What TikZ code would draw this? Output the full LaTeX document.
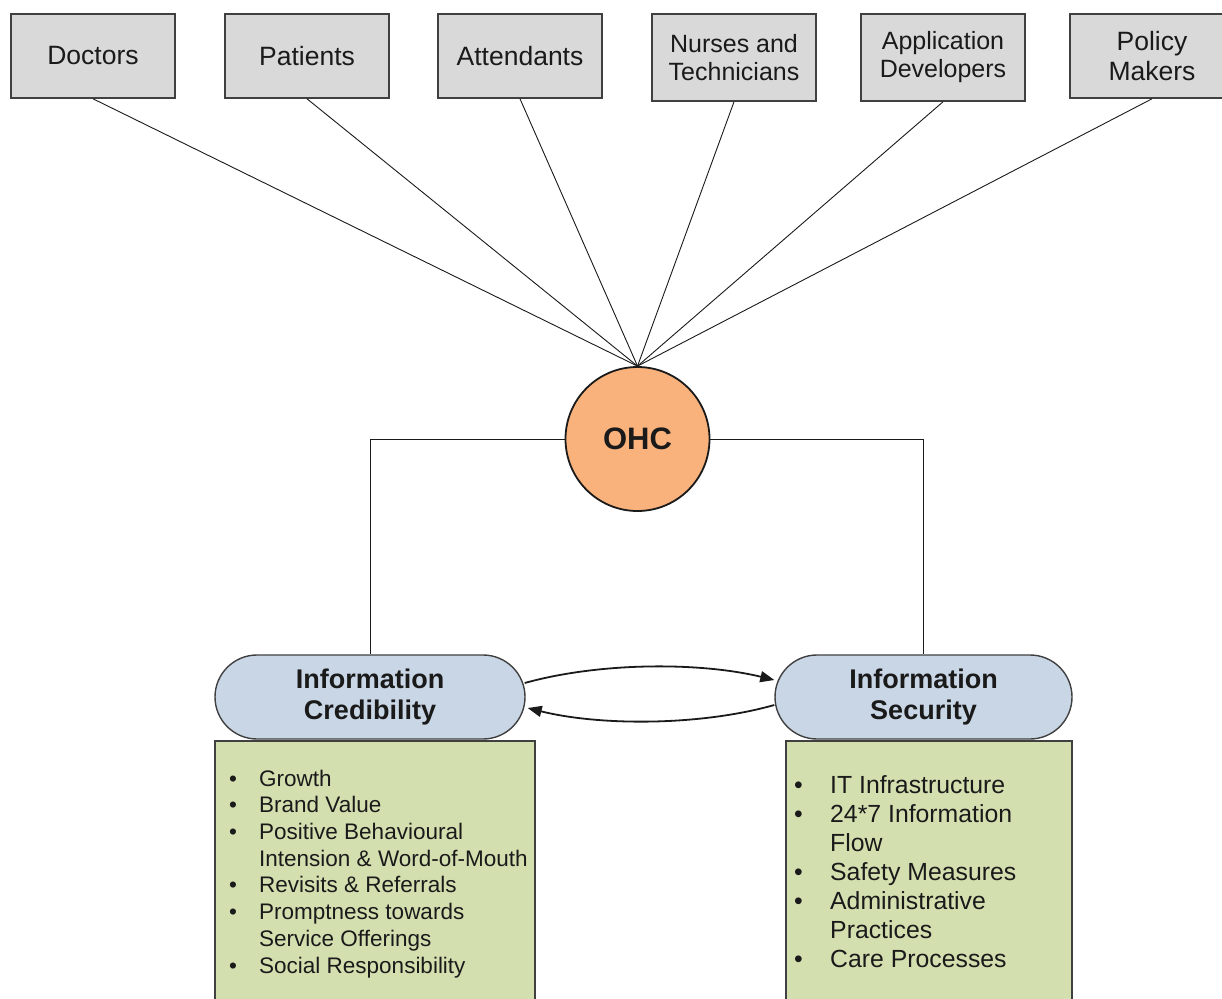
\documentclass[tikz,border=0pt]{standalone}
\usepackage{fontspec}
\setmainfont{Liberation Sans}
\usetikzlibrary{arrows.meta,shapes.misc}
\definecolor{boxgray}{HTML}{D9D9D9}
\definecolor{edgegray}{HTML}{404040}
\definecolor{ohcorange}{HTML}{F9B27C}
\definecolor{pillblue}{HTML}{C9D6E6}
\definecolor{listgreen}{HTML}{D4DFB0}
\definecolor{inkdark}{HTML}{1A1A1A}
\begin{document}
\begin{tikzpicture}[x=1pt,y=-1pt,
  topbox/.style={draw=edgegray, line width=1.6pt, fill=boxgray, minimum width=164pt, minimum height=84pt, inner sep=0pt, align=center, text=inkdark, font=\fontsize{26.5}{30}\selectfont},
  topboxtwo/.style={topbox, minimum height=87pt, font=\fontsize{25}{28}\selectfont},
  hub/.style={circle, draw=inkdark, line width=1.8pt, fill=ohcorange, minimum size=144pt, inner sep=0pt, text=inkdark, font=\bfseries\fontsize{31}{36}\selectfont},
  pill/.style={rounded rectangle, draw=edgegray, line width=1.4pt, fill=pillblue, minimum width=310pt, minimum height=84pt, inner sep=0pt, align=center, text=inkdark, font=\bfseries\fontsize{27}{31}\selectfont},
  listbox/.style={draw=edgegray, line width=1.4pt, fill=listgreen},
  listtext/.style={anchor=north west, inner sep=0pt, align=left, text=inkdark},
  spoke/.style={draw=inkdark, line width=0.9pt},
  link/.style={draw=inkdark, line width=1pt},
  flow/.style={draw=inkdark, line width=1.8pt, -{Triangle[length=14pt,width=11pt]}}
]
\useasboundingbox (0,0) rectangle (1222,998);

% stakeholder boxes
\node[topbox] (doc) at (93,56) {Doctors};
\node[topbox] (pat) at (307,56) {Patients};
\node[topbox] (att) at (520,56) {Attendants};
\node[topboxtwo] (nur) at (734,57.5) {Nurses and\\Technicians};
\node[topboxtwo] (app) at (943,57.5) {Application\\Developers};
\node[topbox] (pol) at (1152,56) {Policy\\Makers};

% hub
\node[hub] (ohc) at (637.5,439) {OHC};

\foreach \n in {doc,pat,att,nur,app,pol}
  \draw[spoke] (\n.south) -- (ohc.north);

% pills
\node[pill] (cred) at (370,697) {Information\\Credibility};
\node[pill, minimum width=297pt] (sec) at (923.5,697) {Information\\Security};

\draw[link] (ohc.west) -| (cred.north);
\draw[link] (ohc.east) -| (sec.north);

% list boxes
\path[listbox] (215,741) rectangle (535,1004);
\path[listbox] (786,741) rectangle (1072,1004);

\node[listtext, font=\fontsize{22.5}{26.7}\selectfont] (credlist) at (229,769.6) {%
\makebox[30pt][l]{\textbullet}Growth\\
\makebox[30pt][l]{\textbullet}Brand Value\\
\makebox[30pt][l]{\textbullet}Positive Behavioural\\
\hspace*{30pt}Intension \& Word-of-Mouth\\
\makebox[30pt][l]{\textbullet}Revisits \& Referrals\\
\makebox[30pt][l]{\textbullet}Promptness towards\\
\hspace*{30pt}Service Offerings\\
\makebox[30pt][l]{\textbullet}Social Responsibility};

\node[listtext, font=\fontsize{24.8}{29}\selectfont] (seclist) at (794,775) {%
\makebox[36pt][l]{\textbullet}IT Infrastructure\\
\makebox[36pt][l]{\textbullet}24*7 Information\\
\hspace*{36pt}Flow\\
\makebox[36pt][l]{\textbullet}Safety Measures\\
\makebox[36pt][l]{\textbullet}Administrative\\
\hspace*{36pt}Practices\\
\makebox[36pt][l]{\textbullet}Care Processes};

% mutual arrows
\draw[flow] ([xshift=-1pt,yshift=14pt]cred.east) .. controls (600,662) and (700,662) .. ([yshift=17pt]sec.west);
\draw[flow] ([yshift=-8pt]sec.west) .. controls (700,726) and (600,726) .. ([xshift=2pt,yshift=-11pt]cred.east);
\end{tikzpicture}
\end{document}
